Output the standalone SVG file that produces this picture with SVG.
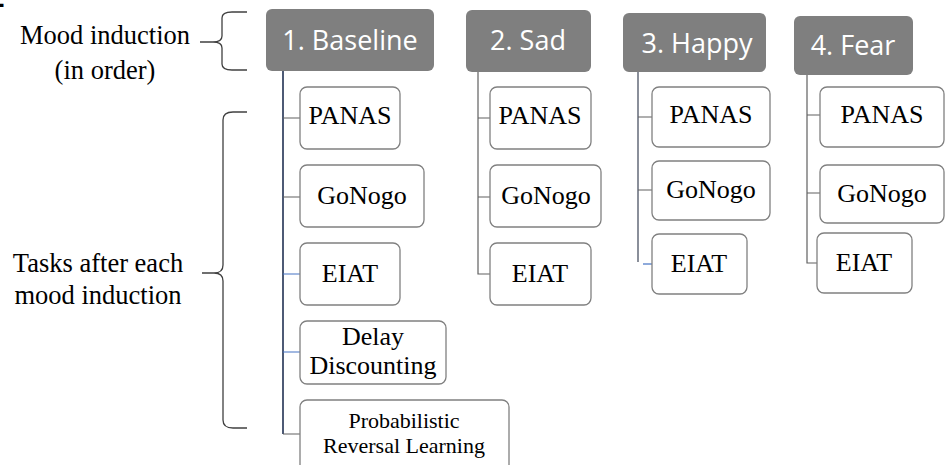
<svg xmlns="http://www.w3.org/2000/svg" width="945" height="465" viewBox="0 0 945 465">
<style>
.hdr{fill:#7f7f7f;}
.hdrt{font-family:"Open Sans","Liberation Sans",sans-serif;font-size:27px;fill:#ffffff;text-anchor:middle;}
.box{fill:#ffffff;stroke:#808080;stroke-width:1.3;}
.t{font-family:"Liberation Serif","Times New Roman",serif;font-size:26px;fill:#000000;text-anchor:middle;}
.lbl{font-family:"Liberation Serif","Times New Roman",serif;font-size:26.5px;fill:#000000;text-anchor:middle;}
.c{fill:none;stroke:#606060;stroke-width:1.2;}
.cb{fill:none;stroke:#4472c4;stroke-width:1.2;}
.br{fill:none;stroke:#404040;stroke-width:1.3;}
</style>
<rect width="945" height="465" fill="#ffffff"/>
<text x="-11" y="7" font-family="Liberation Sans,sans-serif" font-weight="bold" font-size="28" fill="#000">2</text>

<g id="label-mood">
<text class="lbl" x="105" y="44">Mood induction</text>
<text class="lbl" x="105" y="79">(in order)</text>
<path class="br" d="M200,42 H213 Q222,42 222,36 V18 Q222,12 232,12 H247 M213,42 Q222,42 222,48 V64 Q222,70 232,70 H247"/>
</g>
<g id="label-tasks">
<text class="lbl" x="98" y="272">Tasks after each</text>
<text class="lbl" x="98" y="304">mood induction</text>
<path class="br" stroke="#606060" d="M202,273 H214 Q223,273 223,265 V120 Q223,112 233,112 H247 M214,273 Q223,273 223,281 V420 Q223,428 233,428 H247"/>
</g>

<g id="connectors">
<path d="M283,71 V434" fill="none" stroke="#4d5a75" stroke-width="2"/>
<path class="c" d="M283,118 H300 M283,197 H300 M283,434 H300"/>
<path class="cb" d="M283,274 H300 M283,352 H300"/>
<path class="c" d="M478,72 V274 H490 M478,118 H490 M478,197 H490"/>
<path d="M638,72 V262" fill="none" stroke="#8a8f9a" stroke-width="2"/>
<path class="c" d="M638,117 H652 M638,190 H652"/>
<path class="cb" d="M643,264 H652"/>
<path class="c" d="M807,75 V263 H817 M807,115 H820 M807,193 H820"/>
</g>

<g id="h1"><rect class="hdr" x="266" y="9" width="168" height="62" rx="6"/><text class="hdrt" x="350" y="50">1. Baseline</text></g>
<g id="h2"><rect class="hdr" x="466" y="10" width="125" height="62" rx="6"/><text class="hdrt" x="528" y="50">2. Sad</text></g>
<g id="h3"><rect class="hdr" x="623" y="13" width="143" height="59" rx="6"/><text class="hdrt" x="697" y="53">3. Happy</text></g>
<g id="h4"><rect class="hdr" x="794" y="16" width="119" height="59" rx="6"/><text class="hdrt" x="853" y="55">4. Fear</text></g>

<g id="b-panas"><rect class="box" x="300" y="87" width="100" height="62" rx="7"/><text class="t" x="350" y="124">PANAS</text></g>
<g id="b-gonogo"><rect class="box" x="300" y="165" width="124" height="62" rx="7"/><text class="t" x="362" y="204">GoNogo</text></g>
<g id="b-eiat"><rect class="box" x="300" y="243" width="100" height="62" rx="7"/><text class="t" x="350" y="282">EIAT</text></g>
<g id="b-dd"><rect class="box" x="300" y="321" width="146" height="63" rx="7"/><text class="t" x="373" y="345">Delay</text><text class="t" x="373" y="374">Discounting</text></g>
<g id="b-prl"><rect class="box" x="300" y="400" width="209" height="75" rx="7"/><text class="t" style="font-size:22px" x="404" y="428">Probabilistic</text><text class="t" style="font-size:22px" x="404" y="453">Reversal Learning</text></g>

<g id="s-panas"><rect class="box" x="490" y="87" width="101" height="62" rx="7"/><text class="t" x="540" y="124">PANAS</text></g>
<g id="s-gonogo"><rect class="box" x="490" y="165" width="111" height="62" rx="7"/><text class="t" x="546" y="204">GoNogo</text></g>
<g id="s-eiat"><rect class="box" x="490" y="243" width="101" height="62" rx="7"/><text class="t" x="540" y="282">EIAT</text></g>

<g id="hp-panas"><rect class="box" x="652" y="87" width="118" height="60" rx="7"/><text class="t" x="711" y="123">PANAS</text></g>
<g id="hp-gonogo"><rect class="box" x="652" y="161" width="118" height="59" rx="7"/><text class="t" x="711" y="198">GoNogo</text></g>
<g id="hp-eiat"><rect class="box" x="652" y="234" width="95" height="60" rx="7"/><text class="t" x="699" y="272">EIAT</text></g>

<g id="f-panas"><rect class="box" x="820" y="87" width="124" height="60" rx="7"/><text class="t" x="882" y="123">PANAS</text></g>
<g id="f-gonogo"><rect class="box" x="820" y="165" width="124" height="58" rx="7"/><text class="t" x="882" y="202">GoNogo</text></g>
<g id="f-eiat"><rect class="box" x="817" y="233" width="95" height="60" rx="7"/><text class="t" x="864" y="271">EIAT</text></g>
</svg>
